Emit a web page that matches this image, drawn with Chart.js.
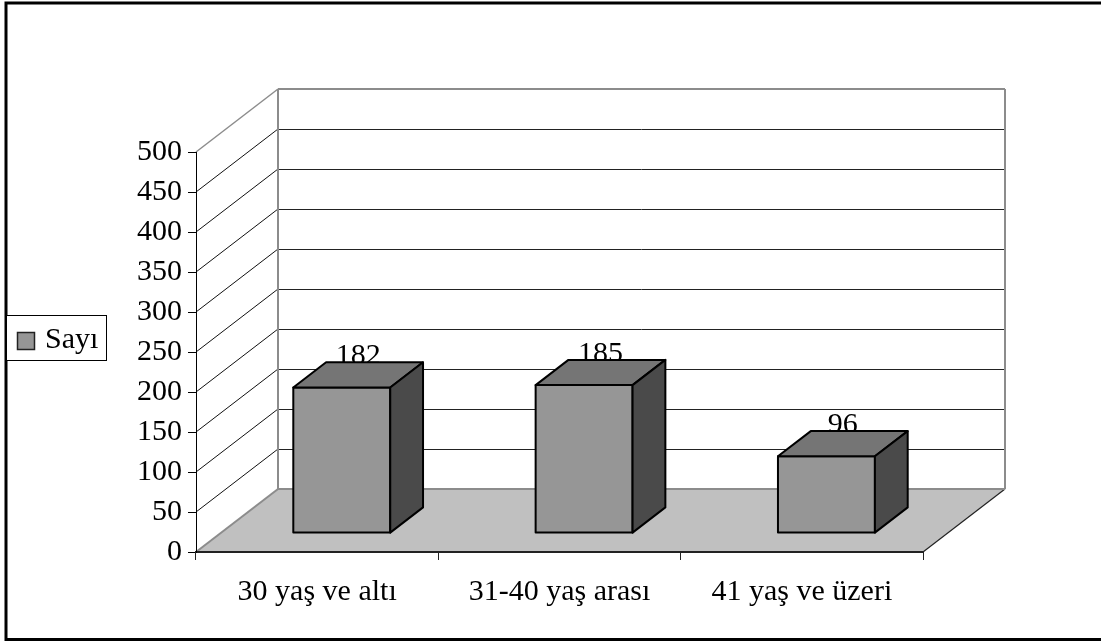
<!DOCTYPE html>
<html lang="tr">
<head>
<meta charset="utf-8">
<title>Sayı</title>
<script src="https://cdn.jsdelivr.net/npm/chart.js@4.4.1/dist/chart.umd.min.js"></script>
<style>
  html, body { margin: 0; padding: 0; background: #fff; }
  canvas { display: block; }
</style>
</head>
<body>
<canvas id="chart" width="1101" height="641"></canvas>
<script>
// veriler
const categories = ['30 yaş ve altı', '31-40 yaş arası', '41 yaş ve üzeri'];
const seriesName = 'Sayı';
const counts = [182, 185, 96];
const yTicks = [0, 50, 100, 150, 200, 250, 300, 350, 400, 450, 500];

// 3B görünüm: derinlik vektörü ve çubukların derinlik aralığı
const DX = 82, DY = -63;
const BAR_FRONT = 0.3, BAR_BACK = 0.7;
const FONT = { family: "'Liberation Serif', serif", size: 30 };

function poly(ctx, pts, fill, stroke, lw) {
    ctx.beginPath();
    ctx.moveTo(pts[0][0], pts[0][1]);
    for (let i = 1; i < pts.length; i++) ctx.lineTo(pts[i][0], pts[i][1]);
    ctx.closePath();
    if (fill) { ctx.fillStyle = fill; ctx.fill(); }
    if (stroke) { ctx.strokeStyle = stroke; ctx.lineWidth = lw || 1; ctx.stroke(); }
}

function line(ctx, x1, y1, x2, y2, color, lw) {
    ctx.beginPath();
    ctx.moveTo(x1, y1);
    ctx.lineTo(x2, y2);
    ctx.strokeStyle = color;
    ctx.lineWidth = lw || 1;
    ctx.stroke();
}

// duvarlar, taban ve kılavuz çizgiler
const wallsPlugin = {
    id: 'walls',
    beforeDraw(chart) {
        const ctx = chart.ctx;
        const a = chart.chartArea;
        const y = chart.scales.y;
        const L = a.left, R = a.right;
        const y0 = y.getPixelForValue(0);
        const yMax = y.getPixelForValue(yTicks[yTicks.length - 1]);
        ctx.save();

        // dış çerçeve
        ctx.strokeStyle = '#000';
        ctx.lineWidth = 3;
        ctx.strokeRect(6, 3, 1110, 636.5);

        // arka duvar ve yan duvar
        poly(ctx, [[L + DX, yMax + DY], [R + DX, yMax + DY], [R + DX, y0 + DY], [L + DX, y0 + DY]], '#fff');
        poly(ctx, [[L, yMax], [L + DX, yMax + DY], [L + DX, y0 + DY], [L, y0]], '#fff');

        // taban
        poly(ctx, [[L, y0], [R, y0], [R + DX, y0 + DY], [L + DX, y0 + DY]], '#c0c0c0');
        line(ctx, R, y0, R + DX, y0 + DY, '#222', 1.2);
        line(ctx, L, y0, L + DX, y0 + DY, '#8c8c8c', 2);
        line(ctx, L + DX, y0 + DY, R + DX, y0 + DY, '#8c8c8c', 2);

        // kılavuz çizgiler
        yTicks.slice(1, -1).forEach(v => {
            const py = Math.round(y.getPixelForValue(v) + DY) + 0.5;
            line(ctx, L + DX, py, R + DX, py, '#222', 1);
            line(ctx, L, y.getPixelForValue(v), L + DX, y.getPixelForValue(v) + DY, '#111', 1);
        });

        // duvar kenarları
        line(ctx, L + DX, yMax + DY, R + DX, yMax + DY, '#8c8c8c', 2);
        line(ctx, R + DX, yMax + DY, R + DX, y0 + DY, '#8c8c8c', 2);
        line(ctx, L + DX, yMax + DY, L + DX, y0 + DY, '#8c8c8c', 2);
        line(ctx, L, yMax, L + DX, yMax + DY, '#8c8c8c', 1.5);
        ctx.restore();
    },
    afterDatasetsDraw(chart) {
        const ctx = chart.ctx;
        const meta = chart.getDatasetMeta(0);
        ctx.save();
        meta.data.forEach((bar, i) => {
            const half = bar.width / 2;
            const fx = BAR_FRONT * DX, fy = BAR_FRONT * DY;
            const dx = (BAR_BACK - BAR_FRONT) * DX, dy = (BAR_BACK - BAR_FRONT) * DY;
            const x0 = bar.x - half + fx, x1 = bar.x + half + fx;
            const yt = bar.y + fy, yb = bar.base + fy;

            // değer etiketi (üst yüzün arkasında kalır)
            ctx.font = FONT.size + 'px ' + FONT.family;
            ctx.fillStyle = '#000';
            ctx.textAlign = 'center';
            ctx.textBaseline = 'alphabetic';
            ctx.fillText(String(counts[i]), bar.x + 0.5 * DX, bar.y + BAR_BACK * DY + 2);

            ctx.lineJoin = 'round';
            poly(ctx, [[x0, yt], [x1, yt], [x1, yb], [x0, yb]], '#969696', '#000', 2);
            poly(ctx, [[x0, yt], [x1, yt], [x1 + dx, yt + dy], [x0 + dx, yt + dy]], '#757575', '#000', 2);
            poly(ctx, [[x1, yt], [x1 + dx, yt + dy], [x1 + dx, yb + dy], [x1, yb]], '#4a4a4a', '#000', 2);
        });
        ctx.restore();
    },
    afterDraw(chart) {
        // gösterge kutusu
        const ctx = chart.ctx;
        ctx.save();
        ctx.fillStyle = '#fff';
        ctx.fillRect(6, 315, 100, 45);
        ctx.strokeStyle = '#000';
        ctx.lineWidth = 1;
        ctx.strokeRect(6.5, 315.5, 100, 45);
        ctx.fillStyle = '#969696';
        ctx.fillRect(17, 332, 18, 18);
        ctx.lineWidth = 1.5;
        ctx.strokeStyle = '#222';
        ctx.strokeRect(17.5, 332.5, 17, 17);
        ctx.font = FONT.size + 'px ' + FONT.family;
        ctx.fillStyle = '#000';
        ctx.textAlign = 'left';
        ctx.textBaseline = 'middle';
        ctx.fillText(seriesName, 45, 340);
        ctx.restore();
    }
};

new Chart(document.getElementById('chart'), {
    type: 'bar',
    data: {
        labels: categories,
        datasets: [{
            label: seriesName,
            data: counts,
            backgroundColor: 'rgba(0,0,0,0)',
            borderWidth: 0,
            barPercentage: 0.4,
            categoryPercentage: 1
        }]
    },
    options: {
        responsive: false,
        animation: false,
        devicePixelRatio: 1,
        layout: { padding: { left: 0, top: 152, right: 178, bottom: 0 } },
        plugins: {
            legend: { display: false },
            tooltip: { enabled: false }
        },
        scales: {
            x: {
                offset: true,
                grid: { offset: true, drawOnChartArea: false, drawTicks: true, tickLength: 8, color: '#222' },
                border: { display: true, color: '#222', width: 2 },
                ticks: { color: '#000', font: FONT, padding: 14 },
                afterFit(scale) { scale.height = 89; }
            },
            y: {
                min: 0,
                max: 500,
                afterBuildTicks(scale) { scale.ticks = yTicks.map(v => ({ value: v })); },
                grid: { drawOnChartArea: false, drawTicks: true, tickLength: 8, color: '#000' },
                border: { display: true, color: '#000', width: 1 },
                ticks: { color: '#000', font: FONT, padding: 6 },
                afterFit(scale) { scale.width = 196; }
            }
        }
    },
    plugins: [wallsPlugin]
});
</script>
</body>
</html>
